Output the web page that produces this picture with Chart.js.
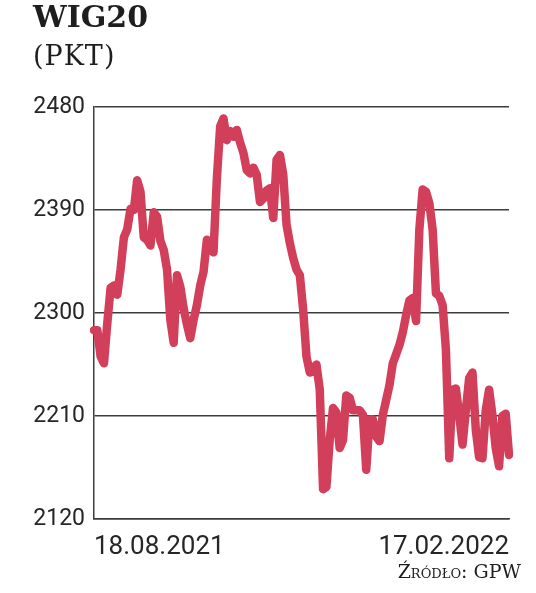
<!DOCTYPE html>
<html>
<head>
<meta charset="utf-8">
<script src="https://cdn.jsdelivr.net/npm/chart.js@4/dist/chart.umd.min.js"></script>
<style>
    html, body { margin: 0; padding: 0; background: #fff; }
    body { width: 536px; height: 593px; position: relative; overflow: hidden; }
    #wrap { position: absolute; left: 0; top: 0; width: 536px; height: 593px; }
    .title { position: absolute; left: 33px; top: -1px; font: bold 30px "DejaVu Serif"; color: #1e1e1e; }
    .unit { position: absolute; left: 33px; top: 40px; font: 27px "DejaVu Serif"; letter-spacing: 1px; color: #1e1e1e; }
    .source { position: absolute; right: 15px; top: 560px; font: 19px "DejaVu Serif"; font-variant: small-caps; color: #1e1e1e; }
</style>
</head>
<body>
<div id="wrap"><canvas id="wig-chart"></canvas></div>
<div class="title">WIG20</div>
<div class="unit">(PKT)</div>
<div class="source">Źródło: GPW</div>
<script>
// WIG20 daily close, 18.08.2021 - 17.02.2022
const firstDate = '18.08.2021';
const lastDate = '17.02.2022';
const closes = [
    2285, 2285, 2262, 2256, 2291, 2322, 2324, 2316, 2338, 2366,
    2373, 2391, 2390, 2416, 2406, 2366, 2364, 2359, 2388, 2384,
    2363, 2355, 2338, 2294, 2274, 2333, 2323, 2304, 2290, 2278,
    2294, 2307, 2324, 2336, 2364, 2362, 2353, 2417, 2463, 2470,
    2451, 2459, 2454, 2460, 2449, 2440, 2425, 2422, 2427, 2421,
    2397, 2400, 2407, 2409, 2383, 2434, 2438, 2421, 2377, 2361,
    2348, 2338, 2333, 2303, 2262, 2248, 2250, 2255, 2233, 2146,
    2148, 2189, 2217, 2213, 2182, 2189, 2228, 2226, 2215, 2215,
    2215, 2211, 2163, 2207, 2207, 2192, 2188, 2211, 2224, 2237,
    2256, 2264, 2272, 2283, 2298, 2311, 2313, 2293, 2373, 2408,
    2406, 2396, 2373, 2317, 2315, 2307, 2268, 2173, 2233, 2234,
    2211, 2185, 2215, 2243, 2248, 2198, 2174, 2173, 2215, 2233,
    2211, 2182, 2166, 2210, 2212, 2176
];
const labels = closes.map((_, i) => i);
const yTicks = [2120, 2210, 2300, 2390, 2480];

const gridColor = '#3c3c3c';
const textColor = '#262626';

new Chart(document.getElementById('wig-chart'), {
    type: 'line',
    data: {
        labels: labels,
        datasets: [{
            data: closes,
            borderColor: '#d23f5b',
            borderWidth: 8.5,
            borderJoinStyle: 'round',
            borderCapStyle: 'round',
            pointRadius: 0,
            tension: 0,
            fill: false
        }]
    },
    options: {
        responsive: true,
        maintainAspectRatio: false,
        animation: false,
        layout: { padding: { top: 107, right: 27, left: 0, bottom: 0 } },
        plugins: {
            legend: { display: false },
            tooltip: { enabled: false }
        },
        scales: {
            x: {
                grid: { display: false },
                border: { display: true, color: gridColor, width: 1.5 },
                afterFit: s => { s.height = 74; },
                ticks: {
                    autoSkip: false,
                    maxRotation: 0,
                    align: 'inner',
                    padding: 5,
                    color: textColor,
                    font: { family: 'Roboto', size: 26 },
                    callback: (v, i) => i === 0 ? firstDate : (i === closes.length - 1 ? lastDate : '')
                }
            },
            y: {
                min: yTicks[0],
                max: yTicks[yTicks.length - 1],
                afterFit: s => { s.width = 94; },
                afterBuildTicks: s => { s.ticks = yTicks.map(v => ({ value: v })); },
                grid: { color: gridColor, lineWidth: 1.5, drawTicks: false },
                border: { display: true, color: gridColor, width: 1.5 },
                ticks: {
                    padding: 9,
                    color: textColor,
                    font: { family: 'Roboto', size: 23 },
                    callback: v => String(v)
                }
            }
        }
    }
});
</script>
</body>
</html>
